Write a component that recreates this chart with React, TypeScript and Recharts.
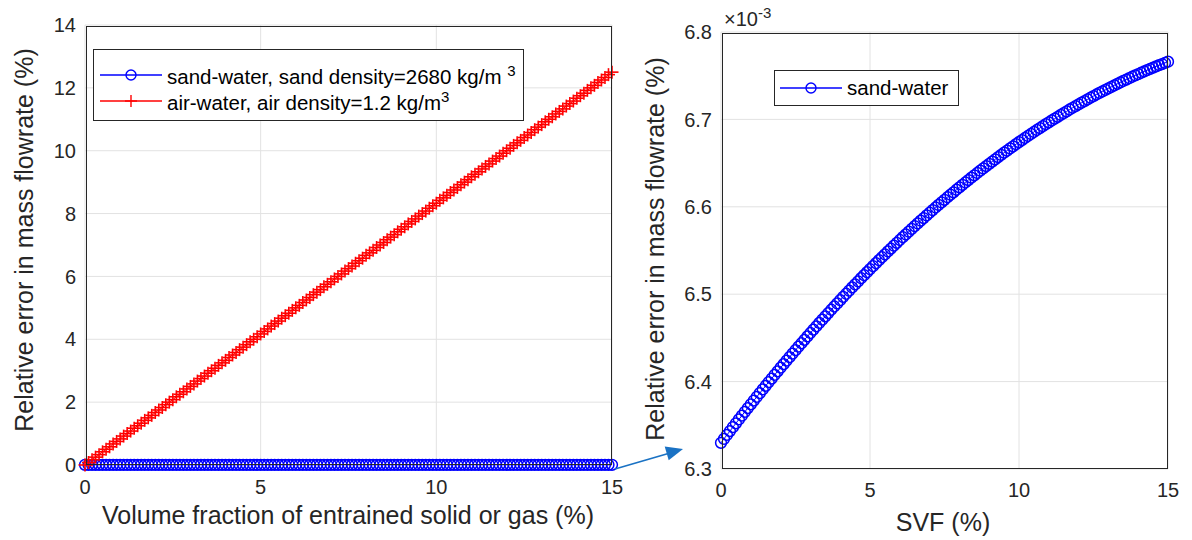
import React from "react";
import { LineChart, Line, XAxis, YAxis, CartesianGrid } from "recharts";

// volume fraction of entrained solid / gas (%)
const svf = [
  0, 0.1, 0.2, 0.3, 0.4, 0.5, 0.6, 0.7, 0.8, 0.9,
  1, 1.1, 1.2, 1.3, 1.4, 1.5, 1.6, 1.7, 1.8, 1.9,
  2, 2.1, 2.2, 2.3, 2.4, 2.5, 2.6, 2.7, 2.8, 2.9,
  3, 3.1, 3.2, 3.3, 3.4, 3.5, 3.6, 3.7, 3.8, 3.9,
  4, 4.1, 4.2, 4.3, 4.4, 4.5, 4.6, 4.7, 4.8, 4.9,
  5, 5.1, 5.2, 5.3, 5.4, 5.5, 5.6, 5.7, 5.8, 5.9,
  6, 6.1, 6.2, 6.3, 6.4, 6.5, 6.6, 6.7, 6.8, 6.9,
  7, 7.1, 7.2, 7.3, 7.4, 7.5, 7.6, 7.7, 7.8, 7.9,
  8, 8.1, 8.2, 8.3, 8.4, 8.5, 8.6, 8.7, 8.8, 8.9,
  9, 9.1, 9.2, 9.3, 9.4, 9.5, 9.6, 9.7, 9.8, 9.9,
  10, 10.1, 10.2, 10.3, 10.4, 10.5, 10.6, 10.7, 10.8, 10.9,
  11, 11.1, 11.2, 11.3, 11.4, 11.5, 11.6, 11.7, 11.8, 11.9,
  12, 12.1, 12.2, 12.3, 12.4, 12.5, 12.6, 12.7, 12.8, 12.9,
  13, 13.1, 13.2, 13.3, 13.4, 13.5, 13.6, 13.7, 13.8, 13.9,
  14, 14.1, 14.2, 14.3, 14.4, 14.5, 14.6, 14.7, 14.8, 14.9,
  15,
];

// air-water relative error (%)
const airErr = [
  0, 0.08, 0.17, 0.25, 0.33, 0.42, 0.5, 0.58, 0.67, 0.75, 0.83, 0.92,
  1.0, 1.08, 1.17, 1.25, 1.33, 1.42, 1.5, 1.58, 1.67, 1.75, 1.83, 1.92,
  2.0, 2.08, 2.17, 2.25, 2.33, 2.42, 2.5, 2.58, 2.67, 2.75, 2.83, 2.92,
  3.0, 3.08, 3.17, 3.25, 3.33, 3.42, 3.5, 3.58, 3.67, 3.75, 3.83, 3.92,
  4.0, 4.08, 4.17, 4.25, 4.33, 4.42, 4.5, 4.58, 4.67, 4.75, 4.83, 4.92,
  5.0, 5.08, 5.17, 5.25, 5.33, 5.42, 5.5, 5.58, 5.67, 5.75, 5.83, 5.92,
  6.0, 6.08, 6.17, 6.25, 6.33, 6.42, 6.5, 6.58, 6.67, 6.75, 6.83, 6.92,
  7.0, 7.08, 7.17, 7.25, 7.33, 7.42, 7.5, 7.58, 7.67, 7.75, 7.83, 7.92,
  8.0, 8.08, 8.17, 8.25, 8.33, 8.42, 8.5, 8.58, 8.67, 8.75, 8.83, 8.92,
  9.0, 9.08, 9.17, 9.25, 9.33, 9.42, 9.5, 9.58, 9.67, 9.75, 9.83, 9.92,
  10.0, 10.08, 10.17, 10.25, 10.33, 10.42, 10.5, 10.58, 10.67, 10.75, 10.83, 10.92,
  11.0, 11.08, 11.17, 11.25, 11.33, 11.42, 11.5, 11.58, 11.67, 11.75, 11.83, 11.92,
  12.0, 12.08, 12.17, 12.25, 12.33, 12.42, 12.5,
];

// sand-water relative error, in units of 1e-3 %
const sandErr = [
  6.33, 6.3345, 6.339, 6.3434, 6.3479, 6.3523, 6.3567, 6.361, 6.3654, 6.3697,
  6.374, 6.3783, 6.3825, 6.3868, 6.391, 6.3952, 6.3994, 6.4035, 6.4077, 6.4118,
  6.4159, 6.4199, 6.424, 6.428, 6.432, 6.436, 6.44, 6.4439, 6.4478, 6.4517,
  6.4556, 6.4595, 6.4633, 6.4671, 6.4709, 6.4747, 6.4784, 6.4822, 6.4859, 6.4895,
  6.4932, 6.4969, 6.5005, 6.5041, 6.5077, 6.5112, 6.5147, 6.5183, 6.5218, 6.5252,
  6.5287, 6.5321, 6.5355, 6.5389, 6.5423, 6.5456, 6.5489, 6.5522, 6.5555, 6.5588,
  6.562, 6.5652, 6.5684, 6.5716, 6.5747, 6.5779, 6.581, 6.5841, 6.5871, 6.5902,
  6.5932, 6.5962, 6.5992, 6.6022, 6.6051, 6.608, 6.6109, 6.6138, 6.6166, 6.6195,
  6.6223, 6.6251, 6.6278, 6.6306, 6.6333, 6.636, 6.6387, 6.6413, 6.644, 6.6466,
  6.6492, 6.6518, 6.6543, 6.6569, 6.6594, 6.6619, 6.6643, 6.6668, 6.6692, 6.6716,
  6.674, 6.6764, 6.6787, 6.681, 6.6833, 6.6856, 6.6879, 6.6901, 6.6923, 6.6945,
  6.6967, 6.6988, 6.7009, 6.703, 6.7051, 6.7072, 6.7092, 6.7113, 6.7133, 6.7152,
  6.7172, 6.7191, 6.721, 6.7229, 6.7248, 6.7267, 6.7285, 6.7303, 6.7321, 6.7338,
  6.7356, 6.7373, 6.739, 6.7407, 6.7423, 6.744, 6.7456, 6.7472, 6.7488, 6.7503,
  6.7518, 6.7534, 6.7548, 6.7563, 6.7578, 6.7592, 6.7606, 6.762, 6.7633, 6.7647,
  6.766,
];

const xTicks = [0, 5, 10, 15];
const leftYTicks = [0, 2, 4, 6, 8, 10, 12, 14];
const rightYTicks = [6.3, 6.4, 6.5, 6.6, 6.7, 6.8];

const data = svf.map((x, i) => ({ svf: x, air: airErr[i], sand: sandErr[i] }));

const FONT = '"Liberation Sans", Arial, Helvetica, sans-serif';
const INK = "#262626";
const GRID = "#e2e2e2";
const tickStyle = { fontSize: 20, fill: INK, fontFamily: FONT };

const circleDot = { r: 5.4, stroke: "#0000ff", strokeWidth: 1.5, fill: "none" };

function PlusDot(props: any) {
  const { cx, cy, index } = props;
  if (cx == null || cy == null) return null;
  const s = 6.5;
  return (
    <g key={`plus-${index}`}>
      <line x1={cx - s} y1={cy} x2={cx + s} y2={cy} stroke="#ff0000" strokeWidth={1.6} />
      <line x1={cx} y1={cy - s} x2={cx} y2={cy + s} stroke="#ff0000" strokeWidth={1.6} />
    </g>
  );
}

function Box({ left, top, width, height }: { left: number; top: number; width: number; height: number }) {
  return (
    <div style={{ position: "absolute", left, top, width, height, border: `1px solid ${INK}`,
      boxSizing: "border-box", pointerEvents: "none" }} />
  );
}

function LegendSample({ kind }: { kind: "circle" | "plus" }) {
  const color = kind === "circle" ? "#0000ff" : "#ff0000";
  return (
    <svg width={62} height={16} style={{ display: "block", flex: "none" }}>
      <line x1={0} y1={8} x2={62} y2={8} stroke={color} strokeWidth={1.3} />
      {kind === "circle" ? (
        <circle cx={31} cy={8} r={5} stroke={color} strokeWidth={1.4} fill="none" />
      ) : (
        <>
          <line x1={25} y1={8} x2={37} y2={8} stroke={color} strokeWidth={1.4} />
          <line x1={31} y1={2} x2={31} y2={14} stroke={color} strokeWidth={1.4} />
        </>
      )}
    </svg>
  );
}

const titleStyle: React.CSSProperties = {
  position: "absolute", fontSize: 25, color: INK, fontFamily: FONT, whiteSpace: "nowrap",
};

export default function App() {
  return (
    <div style={{ position: "fixed", left: 0, top: 0, width: 1192, height: 540, background: "#fff",
      fontFamily: FONT, overflow: "hidden" }}>
      {/* left panel: plot area 86..611 x 26..464 */}
      <div style={{ position: "absolute", left: 0, top: 0 }}>
        <LineChart width={680} height={540} data={data} margin={{ top: 25, right: 68, bottom: 74, left: 84 }}>
          <CartesianGrid stroke={GRID} strokeWidth={1} />
          <XAxis dataKey="svf" type="number" domain={[0, 15]} ticks={xTicks} height={1}
            axisLine={false} tickLine={false} tick={tickStyle} tickMargin={9} />
          <XAxis xAxisId="bm" type="number" domain={[0, 15]} ticks={xTicks} height={1}
            mirror axisLine={false} tick={false} tickSize={5} stroke={INK} />
          <XAxis xAxisId="tm" orientation="top" type="number" domain={[0, 15]} ticks={xTicks} height={1}
            mirror axisLine={false} tick={false} tickSize={5} stroke={INK} />
          <YAxis type="number" domain={[0, 14]} ticks={leftYTicks} width={1}
            axisLine={false} tickLine={false} tick={tickStyle} tickMargin={3} />
          <YAxis yAxisId="lm" type="number" domain={[0, 14]} ticks={leftYTicks} width={1}
            mirror axisLine={false} tick={false} tickSize={5} stroke={INK} />
          <YAxis yAxisId="rm" orientation="right" type="number" domain={[0, 14]} ticks={leftYTicks} width={1}
            mirror axisLine={false} tick={false} tickSize={5} stroke={INK} />
          <Line dataKey={(d: any) => d.sand * 0.001} stroke="#0000ff" strokeWidth={1}
            dot={circleDot} isAnimationActive={false} />
          <Line dataKey="air" stroke="#ff0000" strokeWidth={1}
            dot={(p: any) => <PlusDot {...p} />} isAnimationActive={false} />
        </LineChart>
      </div>
      <Box left={86} top={26} width={526} height={439} />

      <div style={{ position: "absolute", left: 93, top: 49, width: 431, height: 72, boxSizing: "border-box",
        border: `1px solid ${INK}`, background: "#fff", fontSize: 20.5, color: "#000" }}>
        <div style={{ position: "absolute", left: 6, top: 12, display: "flex", alignItems: "center", gap: 5 }}>
          <LegendSample kind="circle" />
          <span style={{ whiteSpace: "nowrap" }}>
            sand-water, sand density=2680 kg/m <sup style={{ fontSize: 15 }}>3</sup>
          </span>
        </div>
        <div style={{ position: "absolute", left: 6, top: 38, display: "flex", alignItems: "center", gap: 5 }}>
          <LegendSample kind="plus" />
          <span style={{ whiteSpace: "nowrap" }}>
            air-water, air density=1.2 kg/m<sup style={{ fontSize: 15 }}>3</sup>
          </span>
        </div>
      </div>

      <div style={{ ...titleStyle, left: 348, top: 515, transform: "translate(-50%, -50%)" }}>
        Volume fraction of entrained solid or gas (%)
      </div>
      <div style={{ ...titleStyle, left: 24, top: 240, transform: "translate(-50%, -50%) rotate(-90deg)" }}>
        Relative error in mass flowrate (%)
      </div>

      {/* right panel: plot area 722..1167 x 33..468 */}
      <div style={{ position: "absolute", left: 680, top: 0 }}>
        <LineChart width={512} height={540} data={data} margin={{ top: 32, right: 24, bottom: 70, left: 40 }}>
          <CartesianGrid stroke={GRID} strokeWidth={1} />
          <XAxis dataKey="svf" type="number" domain={[0, 15]} ticks={xTicks} height={1}
            axisLine={false} tickLine={false} tick={tickStyle} tickMargin={8} />
          <XAxis xAxisId="bm" type="number" domain={[0, 15]} ticks={xTicks} height={1}
            mirror axisLine={false} tick={false} tickSize={5} stroke={INK} />
          <XAxis xAxisId="tm" orientation="top" type="number" domain={[0, 15]} ticks={xTicks} height={1}
            mirror axisLine={false} tick={false} tickSize={5} stroke={INK} />
          <YAxis type="number" domain={[6.3, 6.8]} ticks={rightYTicks} width={1}
            axisLine={false} tickLine={false} tick={tickStyle} tickMargin={3}
            tickFormatter={(v: number) => v.toFixed(1)} />
          <YAxis yAxisId="lm" type="number" domain={[6.3, 6.8]} ticks={rightYTicks} width={1}
            mirror axisLine={false} tick={false} tickSize={5} stroke={INK} />
          <YAxis yAxisId="rm" orientation="right" type="number" domain={[6.3, 6.8]} ticks={rightYTicks} width={1}
            mirror axisLine={false} tick={false} tickSize={5} stroke={INK} />
          <Line dataKey="sand" stroke="#0000ff" strokeWidth={1} dot={circleDot} isAnimationActive={false} />
        </LineChart>
      </div>
      <Box left={722} top={33} width={446} height={436} />

      <div style={{ position: "absolute", left: 724, top: 4, fontSize: 20, color: INK, whiteSpace: "nowrap" }}>
        ×10<sup style={{ fontSize: 15 }}>-3</sup>
      </div>

      <div style={{ position: "absolute", left: 774, top: 70, width: 185, height: 36, boxSizing: "border-box",
        border: `1px solid ${INK}`, background: "#fff", fontSize: 20.5, color: "#000" }}>
        <div style={{ position: "absolute", left: 5, top: 5, display: "flex", alignItems: "center", gap: 5 }}>
          <LegendSample kind="circle" />
          <span style={{ whiteSpace: "nowrap" }}>sand-water</span>
        </div>
      </div>

      <div style={{ ...titleStyle, left: 943, top: 522, transform: "translate(-50%, -50%)" }}>SVF (%)</div>
      <div style={{ ...titleStyle, left: 655, top: 249, transform: "translate(-50%, -50%) rotate(-90deg)" }}>
        Relative error in mass flowrate (%)
      </div>

      {/* arrow from left curve end to right panel */}
      <svg width={1192} height={540} style={{ position: "absolute", left: 0, top: 0, pointerEvents: "none" }}>
        <line x1={615} y1={469} x2={670} y2={453} stroke="#1a72c4" strokeWidth={1.5} />
        <polygon points="683,449 668.7,460.2 664.7,446.6" fill="#1a72c4" />
      </svg>
    </div>
  );
}
